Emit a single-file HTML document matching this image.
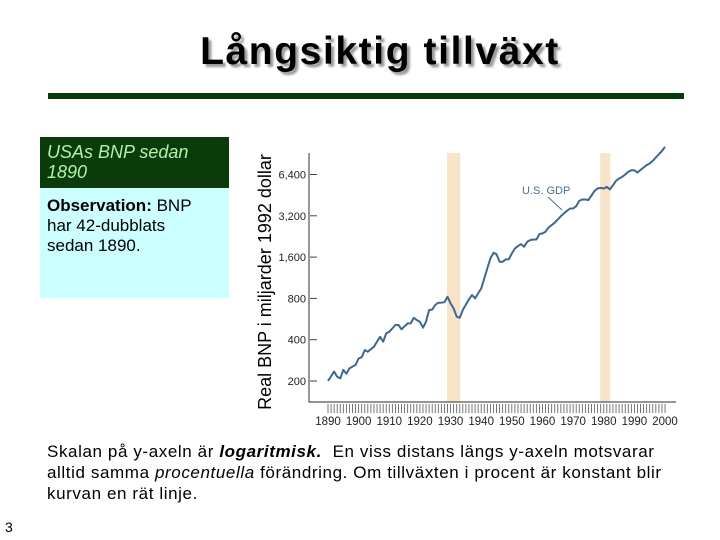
<!DOCTYPE html>
<html><head><meta charset="utf-8"><style>
body{margin:0;background:#fff;}
#root{position:relative;width:720px;height:540px;overflow:hidden;font-family:"Liberation Sans",sans-serif;background:#fff;}
.abs{position:absolute;}
</style></head><body>
<div id="root">
<div class="abs" style="left:140px;top:30px;width:480px;text-align:center;font-size:39px;font-weight:bold;color:#000;text-shadow:3px 3px 2px #999;letter-spacing:1.6px;">Långsiktig tillväxt</div>
<div class="abs" style="left:48px;top:93px;width:636px;height:6px;background:#0b3a0b;"></div>
<div class="abs" style="left:40px;top:137px;width:189px;height:51px;background:#0b3a0b;color:#aef5a6;font-style:italic;font-size:18px;line-height:20px;padding:5px 0 0 7px;box-sizing:border-box;">USAs BNP sedan<br>1890</div>
<div class="abs" style="left:40px;top:188px;width:189px;height:110px;background:#ccffff;color:#000;font-size:17px;line-height:20px;padding:8px 22px 0 7px;box-sizing:border-box;"><b>Observation:</b> BNP har 42-dubblats sedan 1890.</div>
<div class="abs" style="left:265px;top:282px;width:280px;height:20px;margin-left:-140px;margin-top:-10px;transform:rotate(-90deg);text-align:center;font-size:18px;line-height:20px;white-space:nowrap;">Real BNP i miljarder 1992 dollar</div>
<svg class="abs" style="left:0;top:0" width="720" height="540">
<g id="bands"></g><g id="axes"></g><path id="line" fill="none" stroke="#3d6891" stroke-width="2" stroke-linejoin="round"/>
<text x="522" y="194" font-size="11" fill="#4a6e92" font-family="Liberation Sans">U.S. GDP</text>
<line x1="548" y1="197" x2="562" y2="210" stroke="#4a6e92" stroke-width="1"/>
</svg>
<div class="abs" style="left:47px;top:441px;width:670px;font-size:17px;letter-spacing:0.6px;line-height:21px;color:#000;white-space:nowrap;">Skalan på y-axeln är <b><i>logaritmisk.</i></b>&nbsp; En viss distans längs y-axeln motsvarar<br>alltid samma <i>procentuella</i> förändring. Om tillväxten i procent är konstant blir<br>kurvan en rät linje.</div>
<div class="abs" style="left:5px;top:519px;font-size:14px;">3</div>
</div>
<script>
const years=[1890,1892,1893,1894,1895,1896,1897,1899,1900,1901,1902,1903,1905,1906,1907,1908,1909,1910,1912,1913,1914,1916,1917,1918,1919,1920,1921,1922,1923,1924,1925,1926,1927,1928,1929,1930,1931,1932,1933,1934,1936,1937,1938,1939,1940,1941,1942,1943,1944,1945,1946,1947,1948,1949,1950,1951,1952,1953,1954,1955,1956,1957,1958,1959,1960,1961,1962,1964,1966,1967,1968,1969,1970,1971,1972,1973,1974,1975,1976,1977,1978,1979,1980,1981,1982,1983,1984,1985,1986,1987,1988,1989,1990,1991,1992,1993,1994,1995,1996,1997,1998,1999,2000];
const gdp=[200,234,215,209,241,226,247,262,292,298,336,327,356,387,420,387,445,457,512,512,476,526,526,578,556,541,489,541,658,663,716,744,744,750,822,736,676,588,578,658,787,846,800,870,945,1119,1323,1565,1720,1680,1479,1479,1539,1539,1700,1850,1924,1990,1903,2070,2130,2150,2150,2353,2380,2450,2630,2850,3180,3330,3480,3620,3620,3760,4110,4210,4210,4170,4500,4870,5060,5110,5060,5200,4980,5350,5760,5970,6150,6400,6700,6870,6870,6620,6900,7200,7490,7700,8050,8510,9000,9510,10180];
const yTicks=[200,400,800,1600,3200,6400];
const yTickLabels=["200","400","800","1,600","3,200","6,400"];
const xTicks=[1890,1900,1910,1920,1930,1940,1950,1960,1970,1980,1990,2000];
const recessions=[[1929,1933],[1979,1982]];
const X=y=>328+(y-1890)*3.064;
const Y=v=>381-Math.log2(v/200)*41.3;
const ns="http://www.w3.org/2000/svg";
function mk(t,a,p){const e=document.createElementNS(ns,t);for(const k in a)e.setAttribute(k,a[k]);p.appendChild(e);return e;}
const bands=document.getElementById('bands'),axes=document.getElementById('axes');
recessions.forEach(r=>{
 const e=mk('rect',{x:X(r[0])-0.5,y:153,width:X(r[1])-X(r[0])+1,height:249,fill:'#f8e4c8'},bands);
 
 
});
const ax=mk('path',{d:'M309 153 V402 H676',fill:'none',stroke:'#555','stroke-width':1.2},axes);


yTicks.forEach((v,i)=>{
 mk('line',{x1:310,x2:317,y1:Y(v),y2:Y(v),stroke:'#444','stroke-width':1},axes);
 const t=mk('text',{x:306,y:Y(v)+4,'text-anchor':'end','font-size':11,fill:'#222','font-family':'Liberation Sans'},axes);
 t.textContent=yTickLabels[i];
 
 
});
for(let y=1890;y<=2000;y++){mk('line',{x1:X(y),x2:X(y),y1:404,y2:413,stroke:'#555','stroke-width':0.8},axes);}
xTicks.forEach(y=>{
 const t=mk('text',{x:X(y),y:425,'text-anchor':'middle','font-size':11.5,fill:'#222','font-family':'Liberation Sans'},axes);
 t.textContent=y;
 
 
});
const line=document.getElementById('line');
line.setAttribute('d',years.map((y,i)=>(i?'L':'M')+X(y).toFixed(1)+' '+Y(gdp[i]).toFixed(1)).join(' '));


</script>
</body></html>
